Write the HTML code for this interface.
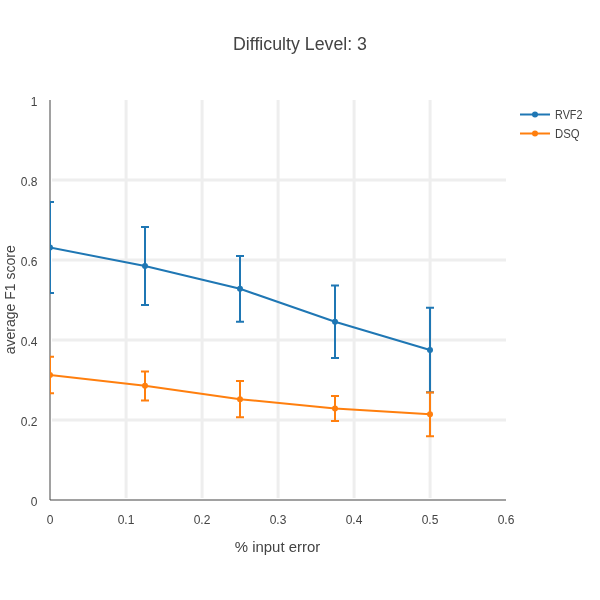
<!DOCTYPE html>
<html>
<head>
<meta charset="utf-8">
<title>Difficulty Level: 3</title>
<style>
html,body{margin:0;padding:0;background:#fff;width:600px;height:600px;overflow:hidden;}
svg{display:block;position:absolute;left:0;top:0;will-change:transform;}
text{font-family:"Liberation Sans",sans-serif;fill:#444;}
</style>
</head>
<body>
<svg width="600" height="600" viewBox="0 0 600 600">
<defs>
<clipPath id="plotclip"><rect x="50" y="100" width="456" height="400"/></clipPath>
</defs>
<rect x="0" y="0" width="600" height="600" fill="#fff"/>

<!-- grid -->
<path fill="#eee" d="M124.6,100h3v398h-3zM200.6,100h3v398h-3zM276.6,100h3v398h-3zM352.6,100h3v398h-3zM428.6,100h3v398h-3zM52,178.5h454v3h-454zM52,258.5h454v3h-454zM52,338.5h454v3h-454zM52,418.5h454v3h-454z"/>

<!-- axis lines -->
<rect x="49" y="100" width="2" height="400" fill="#444" fill-opacity="0.5"/>
<rect x="50" y="499" width="456" height="2" fill="#444" fill-opacity="0.5"/>

<!-- traces -->
<g clip-path="url(#plotclip)">
 <g stroke="#1f77b4" stroke-width="2" fill="none">
  <path d="M46,202H54M50,202V293M46,293H54"/>
  <path d="M141,227H149M145,227V305M141,305H149"/>
  <path d="M236,256H244M240,256V321.7M236,321.7H244"/>
  <path d="M331,285.5H339M335,285.5V357.9M331,357.9H339"/>
  <path d="M426,307.8H434M430,307.8V392.2M426,392.2H434"/>
  <path d="M50,247.5L145,266L240,288.8L335,321.7L430,350"/>
 </g>
 <g fill="#1f77b4">
  <circle cx="50" cy="247.5" r="3"/><circle cx="145" cy="266" r="3"/><circle cx="240" cy="288.8" r="3"/><circle cx="335" cy="321.7" r="3"/><circle cx="430" cy="350" r="3"/>
 </g>
 <g stroke="#ff7f0e" stroke-width="2" fill="none">
  <path d="M46,356.7H54M50,356.7V393.2M46,393.2H54"/>
  <path d="M141,371.4H149M145,371.4V400.6M141,400.6H149"/>
  <path d="M236,381H244M240,381V417.3M236,417.3H244"/>
  <path d="M331,396H339M335,396V421M331,421H339"/>
  <path d="M426,392.5H434M430,392.5V436.2M426,436.2H434"/>
  <path d="M50,375L145,385.8L240,399.2L335,408.4L430,414.3"/>
 </g>
 <g fill="#ff7f0e">
  <circle cx="50" cy="375" r="3"/><circle cx="145" cy="385.8" r="3"/><circle cx="240" cy="399.2" r="3"/><circle cx="335" cy="408.4" r="3"/><circle cx="430" cy="414.3" r="3"/>
 </g>
</g>

<!-- tick labels -->
<g font-size="12" text-anchor="middle">
<text x="50" y="524">0</text>
<text x="126" y="524">0.1</text>
<text x="202" y="524">0.2</text>
<text x="278" y="524">0.3</text>
<text x="354" y="524">0.4</text>
<text x="430" y="524">0.5</text>
<text x="506" y="524">0.6</text>
</g>
<g font-size="12" text-anchor="end" transform="translate(-0.5,0)">
<text x="38" y="505.5">0</text>
<text x="38" y="425.5">0.2</text>
<text x="38" y="345.5">0.4</text>
<text x="38" y="265.5">0.6</text>
<text x="38" y="185.5">0.8</text>
<text x="38" y="105.5">1</text>
</g>

<!-- titles -->
<text id="title" x="300" y="50.3" font-size="17.5" text-anchor="middle" textLength="134" lengthAdjust="spacingAndGlyphs">Difficulty Level: 3</text>
<text id="xtitle" x="277.5" y="551.6" font-size="14.5" text-anchor="middle" textLength="85.5" lengthAdjust="spacingAndGlyphs">% input error</text>
<text id="ytitle" transform="translate(15.2,299.8) rotate(-90)" font-size="14" text-anchor="middle">average F1 score</text>

<!-- legend -->
<g stroke-width="2" fill="none">
<path d="M520,114.5H550" stroke="#1f77b4"/>
<path d="M520,133.5H550" stroke="#ff7f0e"/>
</g>
<circle cx="535" cy="114.5" r="3" fill="#1f77b4"/>
<circle cx="535" cy="133.5" r="3" fill="#ff7f0e"/>
<g font-size="12">
<text id="leg1" x="555" y="118.8" textLength="27.5" lengthAdjust="spacingAndGlyphs">RVF2</text>
<text id="leg2" x="555" y="137.6" textLength="24.6" lengthAdjust="spacingAndGlyphs">DSQ</text>
</g>
</svg>
</body>
</html>
